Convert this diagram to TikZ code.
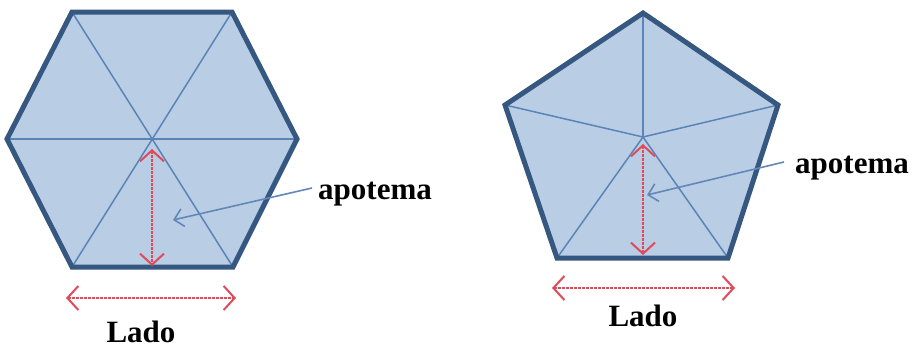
\documentclass[tikz,border=0pt]{standalone}
\usepackage{fontspec}
\setmainfont{Liberation Serif}
\usetikzlibrary{arrows.meta}
\definecolor{polyfill}{HTML}{B9CDE5}
\definecolor{polyedge}{HTML}{36577F}
\definecolor{spoke}{HTML}{5A84B6}
\definecolor{redarr}{HTML}{E04B5A}
\definecolor{pointer}{HTML}{6388B8}
\tikzset{
  polygon/.style={fill=polyfill},
  edgeline/.style={draw=polyedge, line width=5pt, line join=miter},
  spokeline/.style={draw=spoke, line width=1.5pt},
  measure/.style={draw=redarr, line width=2.2pt, dash pattern=on 2.6pt off 1.4pt,
     {Straight Barb[length=11pt,width=24pt,line width=2pt]}-{Straight Barb[length=11pt,width=24pt,line width=2pt]}},
  pointerline/.style={draw=pointer, line width=1.6pt, -{Straight Barb[length=9pt,width=18pt,line width=1.6pt]}},
  label/.style={font=\fontsize{31}{36}\selectfont\bfseries, text=black, inner sep=0pt}
}
\begin{document}
\begin{tikzpicture}[x=1pt,y=-1pt]
\useasboundingbox (0,0) rectangle (917,351);
% hexagon
\coordinate (hTL) at (72,12);
\coordinate (hTR) at (232,12);
\coordinate (hR) at (297,139);
\coordinate (hBR) at (233,267);
\coordinate (hBL) at (72,267);
\coordinate (hL) at (7,139);
\coordinate (hC) at (152,139);
\path[polygon] (hTL) -- (hTR) -- (hR) -- (hBR) -- (hBL) -- (hL) -- cycle;
\path[spokeline] (hTL) -- (hBR);
\path[spokeline] (hTR) -- (hBL);
\path[spokeline] (hL) -- (hR);
\path[edgeline] (hTL) -- (hTR) -- (hR) -- (hBR) -- (hBL) -- (hL) -- cycle;
\coordinate (hA1) at (152,149);
\coordinate (hA2) at (152,266);
\path[measure] (hA1) -- (hA2);
\coordinate (hS1) at (66,298);
\coordinate (hS2) at (236,298);
\path[measure] (hS1) -- (hS2);
\node[label, anchor=base] (hLado) at (141,342) {Lado};
\node[label, anchor=base west] (hApo) at (318,199) {apotema};
\coordinate (hP1) at (312,188);
\coordinate (hP2) at (173,220);
\path[pointerline] (hP1) -- (hP2);
% pentagon
\coordinate (pT) at (643,13);
\coordinate (pR) at (778,105);
\coordinate (pBR) at (728,258);
\coordinate (pBL) at (557,258);
\coordinate (pL) at (505,105);
\coordinate (pC) at (643,137);
\path[polygon] (pT) -- (pR) -- (pBR) -- (pBL) -- (pL) -- cycle;
\foreach \v in {pT,pR,pBR,pBL,pL} \path[spokeline] (pC) -- (\v);
\path[edgeline] (pT) -- (pR) -- (pBR) -- (pBL) -- (pL) -- cycle;
\coordinate (pA1) at (643,144);
\coordinate (pA2) at (643,255);
\path[measure] (pA1) -- (pA2);
\coordinate (pS1) at (552,288);
\coordinate (pS2) at (735,288);
\path[measure] (pS1) -- (pS2);
\node[label, anchor=base] (pLado) at (643,326) {Lado};
\node[label, anchor=base west] (pApo) at (795,173) {apotema};
\coordinate (pP1) at (784,162);
\coordinate (pP2) at (647,195);
\path[pointerline] (pP1) -- (pP2);
\end{tikzpicture}
\end{document}
